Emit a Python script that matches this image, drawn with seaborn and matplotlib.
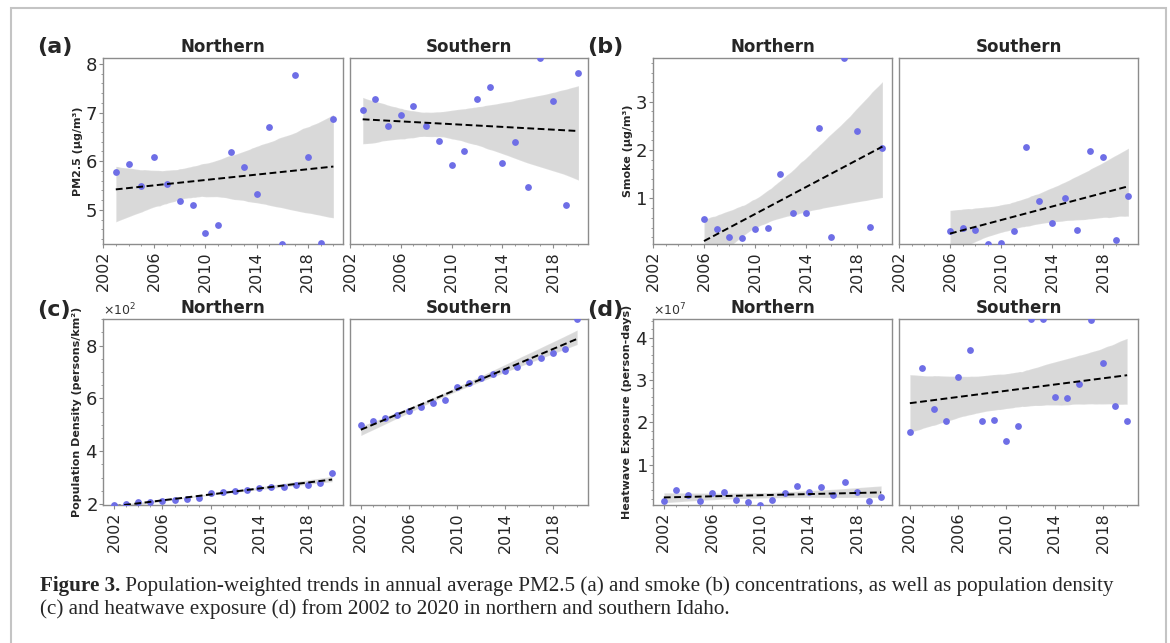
import numpy as np
import pandas as pd
import matplotlib
matplotlib.use("Agg")
import matplotlib.pyplot as plt
import seaborn as sns
from matplotlib.ticker import AutoMinorLocator, MultipleLocator, ScalarFormatter, FixedLocator
from matplotlib.patches import Rectangle

# ---------------- data ----------------
years_pm = list(range(2003, 2021))
years_smoke = list(range(2006, 2021))
years_full = list(range(2002, 2021))

pm25_north = [5.78, 5.94, 5.49, 6.09, 5.54, 5.18, 5.11, 4.52, 4.69, 6.19,
              5.89, 5.33, 6.71, 4.30, 7.77, 6.09, 4.33, 6.86]
pm25_south = [7.05, 7.28, 6.72, 6.95, 7.13, 6.72, 6.42, 5.93, 6.22, 7.28,
              7.53, 5.96, 6.40, 5.47, 8.12, 7.23, 5.10, 7.82]

smoke_north = [0.58, 0.38, 0.21, 0.18, 0.38, 0.39, 1.51, 0.71, 0.70, 2.45,
               0.20, 3.90, 2.39, 0.42, 2.04]
smoke_south = [0.32, 0.39, 0.35, 0.06, 0.09, 0.33, 2.06, 0.95, 0.49, 1.01,
               0.35, 1.98, 1.86, 0.15, 1.06]

popden_north = [196, 201, 206, 209, 211, 215, 218, 222, 242, 246,
                249, 253, 259, 263, 265, 270, 273, 278, 319]
popden_south = [501, 514, 527, 539, 552, 566, 581, 595, 643, 659,
                676, 691, 704, 719, 738, 754, 771, 786, 901]

heat_north = [0.14e7, 0.41e7, 0.28e7, 0.14e7, 0.34e7, 0.35e7, 0.16e7, 0.12e7, 0.047e7, 0.17e7,
              0.34e7, 0.49e7, 0.35e7, 0.48e7, 0.28e7, 0.59e7, 0.35e7, 0.14e7, 0.24e7]
heat_south = [1.76e7, 3.29e7, 2.31e7, 2.04e7, 3.07e7, 3.71e7, 2.02e7, 2.05e7, 1.55e7, 1.91e7,
              4.43e7, 4.44e7, 2.59e7, 2.57e7, 2.91e7, 4.41e7, 3.39e7, 2.39e7, 2.02e7]

region_titles = ["Northern", "Southern"]
panel_letters = ["(a)", "(b)", "(c)", "(d)"]
ylabels = ["PM2.5 (μg/m³)", "Smoke (μg/m³)",
           "Population Density (persons/km²)", "Heatwave Exposure (person-days)"]
year_ticks = [2002, 2006, 2010, 2014, 2018]
caption_bold = "Figure 3."
caption_line1 = (" Population-weighted trends in annual average PM2.5 (a) and smoke (b) "
                 "concentrations, as well as population density")
caption_line2 = ("(c) and heatwave exposure (d) from 2002 to 2020 in northern and southern Idaho.")

# ---------------- style ----------------
sns.set_theme(style="white")
plt.rcParams["font.family"] = ["DejaVu Sans"]

W, H = 1170, 643
fig = plt.figure(figsize=(W / 100, H / 100), dpi=100)
fig.patch.set_facecolor("white")

def fx(px):
    return px / W

def fy(py):
    return 1 - py / H

PT = "#6e6ee6"
SPINE = "#8c8c8c"

cols = [(103, 343), (350, 588), (653, 892), (899, 1138)]
rows = [(58, 244), (319, 505)]

def make_ax(c, r):
    x0, x1 = cols[c]
    y0, y1 = rows[r]
    return fig.add_axes([fx(x0), fy(y1), (x1 - x0) / W, (y1 - y0) / H])

def draw(ax, xs, ys):
    df = pd.DataFrame({"year": xs, "val": ys})
    sns.regplot(data=df, x="year", y="val", ax=ax, color="black", ci=95, seed=0,
                scatter_kws=dict(color=PT, s=24, linewidths=0, alpha=1, zorder=3),
                line_kws=dict(ls=(0, (3.5, 1.8)), lw=1.4, zorder=4))
    ax.set_xlabel("")
    ax.set_ylabel("")
    for s in ax.spines.values():
        s.set_color(SPINE)
        s.set_linewidth(1.0)
    ax.set_xticks(year_ticks)
    ax.xaxis.set_minor_locator(FixedLocator(list(range(2002, 2021))))
    ax.tick_params(axis="x", which="major", labelrotation=90, labelsize=11.5,
                   length=3, width=0.8, color=SPINE, pad=2, bottom=True)
    ax.tick_params(axis="x", which="minor", length=1.5, width=0.6, color=SPINE, bottom=True)
    ax.tick_params(axis="y", which="major", labelsize=13, length=3, width=0.8,
                   color=SPINE, pad=1, left=True)
    ax.tick_params(axis="y", which="minor", length=1.5, width=0.6, color=SPINE, left=True)

datasets = [
    (years_pm, pm25_north, pm25_south, 0, 0, 1.0, (2002, 2020.75)),
    (years_smoke, smoke_north, smoke_south, 2, 0, 1.0, (2002, 2020.75)),
    (years_full, popden_north, popden_south, 0, 1, 200, None),
    (years_full, heat_north, heat_south, 2, 1, 1e7, None),
]

for k, (xs, yn, ys_, c0, r, step, xlim) in enumerate(datasets):
    axn = make_ax(c0, r)
    axs = make_ax(c0 + 1, r)
    draw(axn, xs, yn)
    draw(axs, xs, ys_)
    lo = min(min(yn), min(ys_))
    hi = max(max(yn), max(ys_))
    for ax in (axn, axs):
        ax.set_ylim(lo, hi)
        if xlim is not None:
            ax.set_xlim(*xlim)
        else:
            ax.set_xlim(2001.1, 2020.9)
        ax.yaxis.set_major_locator(MultipleLocator(step))
        ax.yaxis.set_minor_locator(AutoMinorLocator())
        if r == 1:
            fmt = ScalarFormatter(useMathText=True)
            fmt.set_powerlimits((0, 0))
            ax.yaxis.set_major_formatter(fmt)
            ax.yaxis.get_offset_text().set_fontsize(9)
            ax.yaxis.get_offset_text().set_color("#333333")
    axs.tick_params(axis="y", which="both", labelleft=False, left=False)
    axs.yaxis.get_offset_text().set_visible(False)
    axn.set_title(region_titles[0], fontsize=12, fontweight="bold", pad=4)
    axs.set_title(region_titles[1], fontsize=12, fontweight="bold", pad=4)
    axn.set_ylabel(ylabels[k], fontsize=8, fontweight="bold", labelpad=2)

# panel letters
for (lx, ly), lab in zip([(37, 47), (587, 47), (37, 310), (587, 310)], panel_letters):
    fig.text(fx(lx), fy(ly), lab, fontsize=16, fontweight="bold", ha="left", va="center")

# border
fig.patches.append(Rectangle((fx(11), -0.1), fx(1166) - fx(11), fy(8) + 0.1,
                             transform=fig.transFigure, fill=False,
                             edgecolor="#c4c4c4", lw=1.5))

# caption
serif = ["Liberation Serif", "DejaVu Serif"]
CAP = 15.2
t0 = fig.text(fx(40), fy(591), caption_bold, fontsize=CAP, fontweight="bold",
              family=serif, ha="left", va="baseline")
fig.canvas.draw()
bb = t0.get_window_extent(renderer=fig.canvas.get_renderer())
fig.text(bb.x1 / W, fy(591), caption_line1, fontsize=CAP, family=serif,
         ha="left", va="baseline")
fig.text(fx(40), fy(614), caption_line2, fontsize=CAP, family=serif,
         ha="left", va="baseline")

fig.savefig("out.png", dpi=100)
